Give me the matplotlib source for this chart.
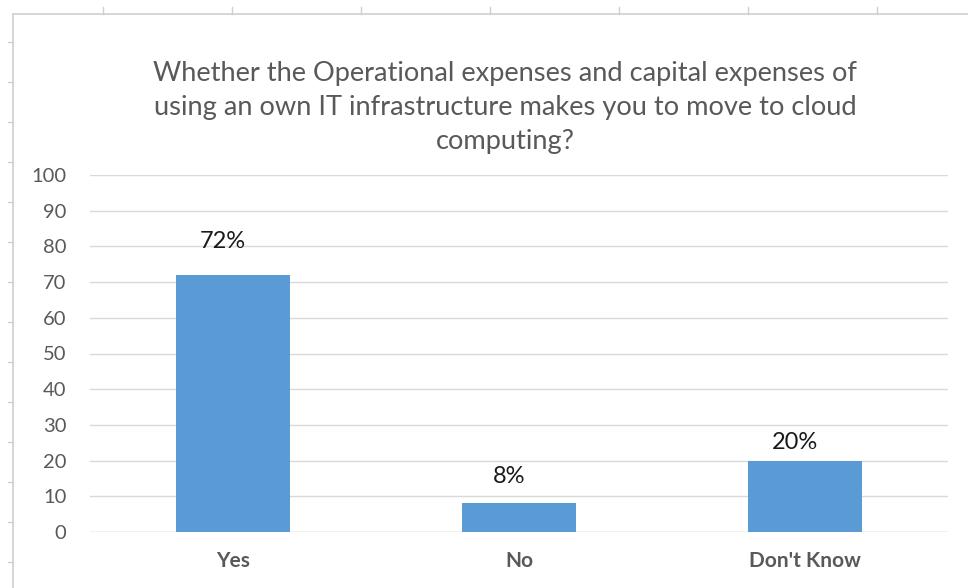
import matplotlib.pyplot as plt
from matplotlib.lines import Line2D

categories = ['Yes', 'No', "Don't Know"]
values = [72, 8, 20]
labels = ['72%', '8%', '20%']
yticks = list(range(0, 101, 10))

W, H = 968, 588
plt.rcParams['font.family'] = ['Lato', 'DejaVu Sans']

fig = plt.figure(figsize=(W / 100, H / 100), dpi=100)

# sheet border and row/column tick marks around the chart object
border = '#d0d0d0'
fig.add_artist(Line2D([13 / W, 13 / W], [0, 1 - 14 / H], color=border, lw=1.2))
fig.add_artist(Line2D([13 / W, 1], [1 - 14 / H, 1 - 14 / H], color=border, lw=1.2))
for cx in [103, 232, 361, 490, 619, 748, 877]:
    fig.add_artist(Line2D([cx / W, cx / W], [1 - 7 / H, 1 - 14 / H], color=border, lw=1))
for ry in range(42, 588, 40):
    fig.add_artist(Line2D([8 / W, 13 / W], [1 - ry / H, 1 - ry / H], color=border, lw=1))

ax = fig.add_axes([90 / W, 1 - 532 / H, (948 - 90) / W, (532 - 175) / H])
x = range(len(categories))
bars = ax.bar(x, values, width=0.4, color='#5b9bd5', zorder=3)
# labels were nudged by hand in the original, so offsets differ a bit
lift = [19.5, 15, 8.5]
for b, lab, dy in zip(bars, labels, lift):
    ax.annotate(lab, (b.get_x() + b.get_width() / 2, b.get_height()),
                xytext=(-7, dy), textcoords='offset points',
                ha='center', va='baseline', fontsize=17, color='#1a1a1a')

ax.set_xlim(-0.5, 2.5)
ax.set_ylim(0, 100)
ax.set_yticks(yticks)
ax.set_xticks(list(x))
ax.set_xticklabels(categories, fontweight='bold')
ax.tick_params(axis='y', length=0, pad=17, labelsize=14.5, labelcolor='#595959')
ax.tick_params(axis='x', length=0, pad=14, labelsize=15, labelcolor='#595959')
ax.grid(axis='y', color='#d9d9d9', lw=1, zorder=0)
for s in ax.spines.values():
    s.set_visible(False)
ax.axhline(0, color='#d9d9d9', lw=1, zorder=1)

fig.text(505 / W, 1 - 108 / H,
         'Whether the Operational expenses and capital expenses of\n'
         'using an own IT infrastructure makes you to move to cloud\n'
         'computing?',
         ha='center', va='center', fontsize=19.6, color='#595959', linespacing=1.45)

fig.savefig('out.png', dpi=100)
